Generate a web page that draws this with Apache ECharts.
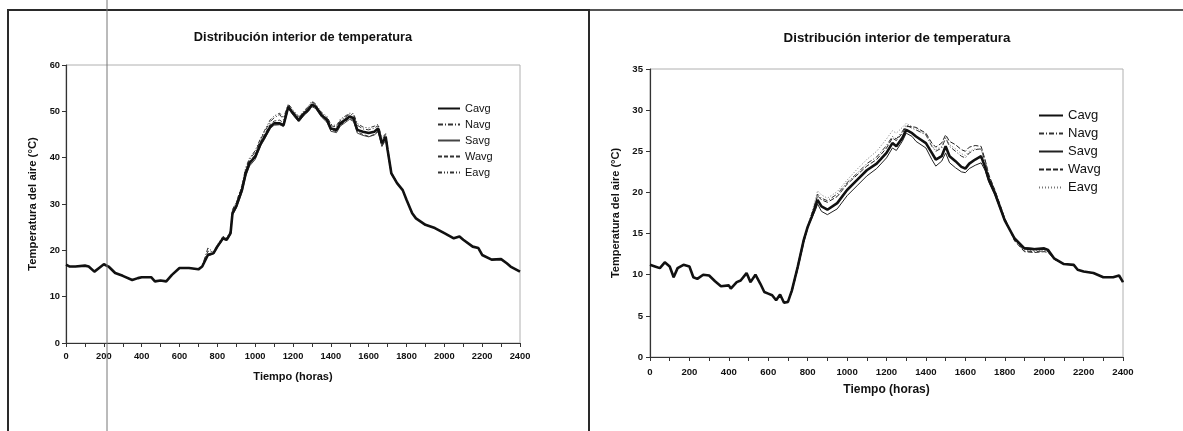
<!DOCTYPE html>
<html>
<head>
<meta charset="utf-8">
<script src="https://cdn.jsdelivr.net/npm/echarts@6/dist/echarts.min.js"></script>
<style>
html,body{margin:0;padding:0;background:#fff;}
#wrap{position:relative;width:1183px;height:431px;overflow:hidden;background:#fff;}
#c1{position:absolute;left:0;top:0;width:590px;height:431px;}
#c2{position:absolute;left:590px;top:0;width:593px;height:431px;}
</style>
</head>
<body>
<div id="wrap"><div id="c1"></div><div id="c2"></div></div>
<script>
// ---------- Data ----------
const TITLE = 'Distribución interior de temperatura';
const X_NAME = 'Tiempo (horas)';
const Y_NAME = 'Temperatura del aire (°C)';
const SERIES_NAMES = ['Cavg', 'Navg', 'Savg', 'Wavg', 'Eavg'];

// Left chart
const L_T = [0,20,50,100,120,150,175,200,225,260,300,350,380,400,450,470,500,530,560,600,650,700,720,750,780,800,830,850,870,880,900,930,950,970,1000,1030,1050,1080,1100,1130,1150,1175,1200,1230,1260,1280,1300,1320,1350,1380,1400,1430,1450,1500,1520,1540,1570,1600,1630,1650,1670,1690,1700,1720,1750,1780,1800,1830,1850,1900,1950,2000,2050,2080,2100,2150,2180,2200,2250,2300,2330,2350,2400];
const L_CAVG = [16.9,16.5,16.5,16.7,16.5,15.4,16.2,17.0,16.5,15.1,14.5,13.6,14.0,14.2,14.2,13.3,13.5,13.3,14.7,16.2,16.2,15.9,16.5,19.0,19.4,20.8,22.6,22.3,23.7,28.0,29.5,33.0,36.6,38.8,40.2,43.1,44.5,46.7,47.4,47.4,47.0,51.0,49.6,48.1,49.6,50.3,51.4,51.0,49.2,48.1,46.3,46.0,47.4,48.9,48.5,46.0,45.6,45.3,45.6,46.3,43.1,44.5,41.7,36.6,34.5,33.0,30.9,28.0,26.9,25.5,24.8,23.7,22.6,23.0,22.3,20.8,20.5,19.0,18.0,18.1,17.2,16.5,15.4];
const L_NAVG = [16.9,16.5,16.5,16.7,16.5,15.4,16.2,17.0,16.5,15.1,14.5,13.6,14.0,14.2,14.2,13.3,13.5,13.3,14.7,16.2,16.2,15.9,16.6,20.5,19.6,21.0,22.8,22.5,24.0,28.6,30.2,33.8,37.6,39.6,41.2,44.0,45.6,47.8,48.6,49.3,48.2,51.3,50.0,48.6,50.0,50.8,52.0,51.4,49.6,48.6,46.9,46.6,48.0,49.4,49.2,47.0,46.2,46.0,46.4,46.9,43.8,45.0,42.0,36.8,34.6,33.0,30.9,28.0,26.9,25.5,24.8,23.7,22.6,23.0,22.3,20.8,20.5,19.0,18.0,18.1,17.2,16.5,15.4];
const L_SAVG = [16.9,16.5,16.5,16.7,16.5,15.4,16.2,17.0,16.5,15.1,14.5,13.6,14.0,14.2,14.2,13.3,13.5,13.3,14.7,16.2,16.2,15.9,16.4,18.8,19.2,20.6,22.4,22.1,23.4,27.6,29.1,32.5,36.0,38.2,39.6,42.6,44.0,46.3,47.0,47.1,46.7,50.6,49.2,47.7,49.2,49.9,51.0,50.6,48.8,47.6,45.7,45.4,46.8,48.3,47.8,45.3,44.8,44.5,44.9,45.6,42.4,43.8,41.3,36.4,34.4,33.0,30.9,28.0,26.9,25.5,24.8,23.7,22.6,23.0,22.3,20.8,20.5,19.0,18.0,18.1,17.2,16.5,15.4];
const L_WAVG = [16.9,16.5,16.5,16.7,16.5,15.4,16.2,17.0,16.5,15.1,14.5,13.6,14.0,14.2,14.2,13.3,13.5,13.3,14.7,16.2,16.2,15.9,16.5,19.2,19.5,21.0,22.7,22.4,23.9,28.3,29.8,33.3,37.0,39.2,40.6,43.5,45.0,47.2,47.9,48.1,47.5,51.1,49.8,48.3,49.8,50.5,51.6,51.2,49.4,48.3,46.0,45.6,47.0,48.6,48.0,45.6,45.0,44.6,45.0,45.8,42.6,44.0,41.5,36.5,34.5,33.0,30.9,28.0,26.9,25.5,24.8,23.7,22.6,23.0,22.3,20.8,20.5,19.0,18.0,18.1,17.2,16.5,15.4];
const L_EAVG = [16.9,16.5,16.5,16.7,16.5,15.4,16.2,17.0,16.5,15.1,14.5,13.6,14.0,14.2,14.2,13.3,13.5,13.3,14.7,16.2,16.2,15.9,16.6,19.8,19.7,21.2,23.0,22.7,24.2,28.8,30.4,34.0,37.8,39.9,41.5,44.3,45.9,48.2,49.0,49.6,48.6,51.6,50.3,48.9,50.2,51.0,52.2,51.6,49.8,48.9,47.2,46.9,48.3,49.6,49.5,47.4,46.6,46.4,46.8,47.2,44.2,45.2,42.2,36.9,34.7,33.0,30.9,28.0,26.9,25.5,24.8,23.7,22.6,23.0,22.3,20.8,20.5,19.0,18.0,18.1,17.2,16.5,15.4];

// Right chart
const R_T = [0,25,50,75,100,120,140,170,200,220,240,270,300,330,360,400,410,440,460,490,510,535,560,580,600,620,640,660,680,700,720,750,780,800,820,840,850,870,900,950,1000,1050,1100,1150,1200,1230,1250,1280,1300,1330,1350,1400,1430,1450,1480,1500,1520,1550,1580,1600,1620,1650,1680,1700,1720,1750,1800,1850,1900,1950,2000,2020,2050,2100,2150,2170,2200,2250,2300,2350,2380,2400];
const R_CAVG = [11.2,11.0,10.8,11.5,11.0,9.7,10.8,11.2,11.0,9.7,9.5,10.0,9.9,9.2,8.6,8.7,8.3,9.1,9.3,10.2,9.1,10.0,8.9,7.9,7.7,7.5,6.9,7.6,6.6,6.7,8.1,11.0,14.2,15.8,17.0,18.3,19.1,18.3,17.9,18.7,20.3,21.5,22.7,23.5,24.8,26.0,25.6,26.6,27.6,27.2,26.8,26.0,24.8,24.0,24.4,25.6,24.4,23.8,23.1,22.9,23.5,24.0,24.4,23.1,21.5,19.9,16.6,14.4,13.2,13.1,13.2,13.0,12.0,11.3,11.2,10.6,10.4,10.2,9.7,9.7,9.9,9.1];
const R_NAVG = [11.2,11.0,10.8,11.5,11.0,9.7,10.8,11.2,11.0,9.7,9.5,10.0,9.9,9.2,8.6,8.7,8.3,9.1,9.3,10.2,9.1,10.0,8.9,7.9,7.7,7.5,6.9,7.6,6.6,6.7,8.0,10.8,14.0,15.8,17.3,18.9,19.8,19.3,19.0,19.8,21.2,22.3,23.5,24.3,25.7,26.8,26.5,27.4,28.2,27.8,27.6,27.0,25.6,25.0,25.4,26.6,25.6,25.0,24.4,24.2,24.8,25.2,25.3,23.8,22.0,20.2,16.8,14.2,12.9,12.8,12.9,12.8,11.9,11.3,11.2,10.6,10.4,10.2,9.7,9.7,9.9,9.1];
const R_SAVG = [11.2,11.0,10.8,11.5,11.0,9.7,10.8,11.2,11.0,9.7,9.5,10.0,9.9,9.2,8.6,8.7,8.3,9.1,9.3,10.2,9.1,10.0,8.9,7.9,7.7,7.5,6.9,7.6,6.6,6.7,8.2,11.2,14.4,15.8,16.8,17.9,18.6,17.7,17.3,18.0,19.6,20.8,22.0,22.9,24.2,25.4,25.1,26.2,27.2,26.8,26.2,25.4,24.0,23.2,23.8,24.8,23.6,23.0,22.5,22.4,22.9,23.3,23.6,22.7,21.2,19.7,16.5,14.5,13.3,13.2,13.2,13.0,12.0,11.3,11.2,10.6,10.4,10.2,9.7,9.7,9.9,9.1];
const R_WAVG = [11.2,11.0,10.8,11.5,11.0,9.7,10.8,11.2,11.0,9.7,9.5,10.0,9.9,9.2,8.6,8.7,8.3,9.1,9.3,10.2,9.1,10.0,8.9,7.9,7.7,7.5,6.9,7.6,6.6,6.7,7.9,10.7,13.9,15.6,17.2,18.7,19.6,19.1,18.8,19.5,21.0,22.1,23.2,24.0,25.4,26.6,26.3,27.2,28.0,28.0,27.9,27.2,26.0,25.5,26.0,27.0,26.2,25.8,25.2,25.0,25.5,25.7,25.6,24.0,22.1,20.3,16.9,14.1,12.8,12.7,12.8,12.7,11.9,11.3,11.2,10.6,10.4,10.2,9.7,9.7,9.9,9.1];
const R_EAVG = [11.2,11.0,10.8,11.5,11.0,9.7,10.8,11.2,11.0,9.7,9.5,10.0,9.9,9.2,8.6,8.7,8.3,9.1,9.3,10.2,9.1,10.0,8.9,7.9,7.7,7.5,6.9,7.6,6.6,6.7,8.0,10.9,14.1,15.9,17.5,19.2,20.2,19.7,19.3,20.1,21.5,22.8,24.0,25.0,26.5,27.5,27.2,27.9,28.4,28.0,27.8,27.0,25.7,25.2,25.6,26.8,25.8,25.3,24.7,24.5,25.0,25.3,25.2,23.7,21.9,20.1,16.7,14.3,13.0,12.9,13.0,12.9,11.9,11.3,11.2,10.6,10.4,10.2,9.7,9.7,9.9,9.1];

const L_Y_MAX = 60, L_Y_STEP = 10;
const R_Y_MAX = 35, R_Y_STEP = 5;
const X_MAX = 2400, X_STEP = 200;

// ---------- Helpers ----------
const FONT = 'Liberation Sans, Arial, sans-serif';
function pairs(t, v) { return t.map((x, i) => [x, v[i]]); }

function makeOption(cfg) {
  const styles = cfg.styles;
  const series = cfg.values.map((vals, i) => ({
    name: SERIES_NAMES[i],
    type: 'line',
    data: pairs(cfg.t, vals),
    symbol: 'none',
    showSymbol: false,
    z: i === 0 ? 5 : 2,
    silent: true,
    color: styles[i].color,
    itemStyle: { color: styles[i].color, opacity: 0 },
    lineStyle: styles[i]
  }));
  return {
    animation: false,
    backgroundColor: '#fff',
    title: {
      text: TITLE,
      left: cfg.titleX,
      top: cfg.titleY,
      textAlign: 'center',
      textStyle: { fontFamily: FONT, fontSize: cfg.titleSize, fontWeight: 'bold', color: '#111' }
    },
    legend: {
      data: SERIES_NAMES,
      orient: 'vertical',
      left: cfg.legendX,
      top: cfg.legendY,
      itemWidth: cfg.legendW,
      itemHeight: cfg.legendH,
      itemGap: cfg.legendGap,
      selectedMode: false,
      itemStyle: { opacity: 0, borderWidth: 0 },
      textStyle: { fontFamily: FONT, fontSize: cfg.legendSize, color: '#111' }
    },
    grid: {
      left: cfg.grid[0], top: cfg.grid[1], right: cfg.grid[2], bottom: cfg.grid[3],
      show: true, borderColor: '#b0b0b0', borderWidth: 1, backgroundColor: 'transparent'
    },
    xAxis: {
      type: 'value', min: 0, max: X_MAX, interval: X_STEP,
      name: X_NAME, nameLocation: 'middle', nameGap: cfg.xNameGap,
      nameTextStyle: { fontFamily: FONT, fontSize: cfg.xNameSize, fontWeight: 'bold', color: '#111' },
      axisLine: { show: true, lineStyle: { color: '#333', width: 1.2 } },
      axisTick: { show: true, length: 4, lineStyle: { color: '#333' } },
      minorTick: { show: true, splitNumber: 2, length: 4, lineStyle: { color: '#333' } },
      splitLine: { show: false },
      axisLabel: { fontFamily: FONT, fontSize: cfg.tickSize, fontWeight: 'bold', color: '#111', margin: cfg.xLabelMargin,
        formatter: v => String(v) }
    },
    yAxis: {
      type: 'value', min: 0, max: cfg.yMax, interval: cfg.yStep,
      name: Y_NAME, nameLocation: 'middle', nameGap: cfg.yNameGap, nameRotate: 90,
      nameTextStyle: { fontFamily: FONT, fontSize: cfg.yNameSize, fontWeight: 'bold', color: '#111' },
      axisLine: { show: true, lineStyle: { color: '#333', width: 1.2 } },
      axisTick: { show: true, length: 4, lineStyle: { color: '#333' } },
      splitLine: { show: false },
      axisLabel: { fontFamily: FONT, fontSize: cfg.tickSize, fontWeight: 'bold', color: '#111', margin: cfg.yLabelMargin,
        formatter: v => String(v) }
    },
    graphic: cfg.graphic,
    series: series
  };
}

// ---------- Left chart ----------
const c1 = echarts.init(document.getElementById('c1'), null, { renderer: 'canvas' });
c1.setOption(makeOption({
  t: L_T,
  values: [L_CAVG, L_NAVG, L_SAVG, L_WAVG, L_EAVG],
  styles: [
    { color: '#111', width: 2.6, type: 'solid' },
    { color: '#333', width: 1, type: [5, 2, 1, 2] },
    { color: '#444', width: 1, type: 'solid' },
    { color: '#333', width: 1, type: [4, 2] },
    { color: '#333', width: 1, type: [4, 2, 1, 2, 1, 2] }
  ],
  titleX: 298, titleY: 26, titleSize: 12.8,
  legendX: 432, legendY: 98, legendW: 22, legendH: 12, legendGap: 5, legendSize: 11,
  grid: [66, 65, 70, 88],
  yMax: L_Y_MAX, yStep: L_Y_STEP,
  tickSize: 9.3, xNameSize: 11, yNameSize: 11.3,
  xNameGap: 28, yNameGap: 22, xLabelMargin: 9, yLabelMargin: 6,
  graphic: [
    { type: 'polyline', silent: true, shape: { points: [[8, 431], [8, 10], [589, 10], [589, 431]] },
      style: { stroke: '#2a2a2a', lineWidth: 2, fill: null } },
    { type: 'line', silent: true, shape: { x1: 107, y1: 0, x2: 107, y2: 431 },
      style: { stroke: '#777', lineWidth: 1 }, z: 100 }
  ]
}));

// ---------- Right chart ----------
const c2 = echarts.init(document.getElementById('c2'), null, { renderer: 'canvas' });
c2.setOption(makeOption({
  t: R_T,
  values: [R_CAVG, R_NAVG, R_SAVG, R_WAVG, R_EAVG],
  styles: [
    { color: '#111', width: 2.6, type: 'solid' },
    { color: '#333', width: 1, type: [5, 2, 1, 2] },
    { color: '#222', width: 1, type: 'solid' },
    { color: '#222', width: 1, type: [5, 2] },
    { color: '#777', width: 1, type: [1, 2] }
  ],
  titleX: 302, titleY: 27, titleSize: 13.3,
  legendX: 443, legendY: 104, legendW: 24, legendH: 14, legendGap: 5, legendSize: 13,
  grid: [60, 69, 60, 74],
  yMax: R_Y_MAX, yStep: R_Y_STEP,
  tickSize: 9.6, xNameSize: 12, yNameSize: 11,
  xNameGap: 27, yNameGap: 24, xLabelMargin: 10, yLabelMargin: 7,
  graphic: [
    { type: 'line', silent: true, shape: { x1: 0, y1: 10, x2: 593, y2: 10 },
      style: { stroke: '#555', lineWidth: 2 } }
  ]
}));
</script>
</body>
</html>
